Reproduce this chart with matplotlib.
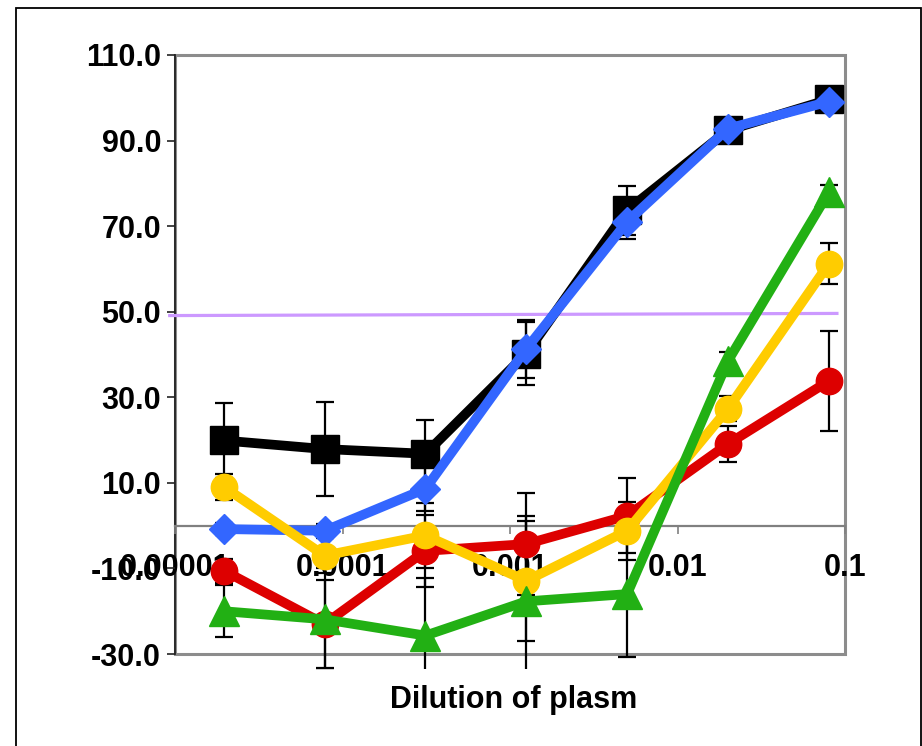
import matplotlib
matplotlib.use('Agg')
import matplotlib.pyplot as plt
from matplotlib.patches import Rectangle
from matplotlib.transforms import Bbox, TransformedBbox
from matplotlib.ticker import NullLocator

plt.rcParams['font.family'] = ['Liberation Sans', 'DejaVu Sans']
plt.rcParams['font.weight'] = 'bold'

# ---------- DATA ----------
dilution = [1 / 51200, 1 / 12800, 1 / 3200, 1 / 800, 1 / 200, 1 / 50, 1 / 12.5]

black_y = [19.9, 17.9, 16.8, 40.2, 73.7, 92.4, 99.6]
black_err = [8.8, 10.9, 8.0, 7.3, 5.7, 1.0, 1.0]

blue_y = [-0.8, -1.2, 8.6, 41.3, 71.0, 92.8, 99.1]
blue_err = [1.5, 1.5, 5.1, 6.8, 4.0, 1.0, 1.0]

red_y = [-10.5, -23.0, -5.9, -4.3, 2.3, 19.1, 33.8]
red_err = [2.8, 10.2, 8.5, 12.0, 8.8, 4.2, 11.6]

yellow_y = [9.1, -7.0, -2.3, -12.9, -1.2, 27.3, 61.2]
yellow_err = [3.0, 4.0, 7.5, 14.0, 6.8, 2.9, 4.8]

green_y = [-20.0, -21.9, -25.7, -17.7, -16.0, 38.5, 77.9]
green_err = [6.1, 12.0, 13.5, 20.0, 14.7, 2.1, 1.7]

cutoff_x = [9.3e-6, 0.0895]
cutoff_y = [49.1, 49.6]

yticks = [-30, -10, 10, 30, 50, 70, 90, 110]
xticks = [1e-5, 1e-4, 1e-3, 1e-2, 1e-1]
xtick_labels = ['0.00001', '0.0001', '0.001', '0.01', '0.1']

# ---------- FIGURE ----------
fig = plt.figure(figsize=(9.22, 7.46), dpi=100)
ax = fig.add_axes([175 / 922, 1 - 654 / 746, 670 / 922, 599 / 746])
ax.set_xscale('log')
ax.set_xlim(1e-5, 0.1)
ax.set_ylim(-30, 110)

# 50% line
ax.plot(cutoff_x, cutoff_y, color='#CC99FF', lw=2.3, zorder=1.8, clip_on=False)

# error bars, allowed to run a little below the plot area like in the original
err_clip = TransformedBbox(Bbox([[1e-6, -33.5], [1.0, 200]]), ax.transData)
for ys, errs in [(black_y, black_err), (blue_y, blue_err), (red_y, red_err),
                 (yellow_y, yellow_err), (green_y, green_err)]:
    eb = ax.errorbar(dilution, ys, yerr=errs, fmt='none', ecolor='black',
                     elinewidth=1.6, capsize=6.5, capthick=1.6, zorder=1.9)
    for art in list(eb[1]) + list(eb[2]):
        art.set_clip_box(err_clip)

series = [
    (black_y, 'black', 's', 20, 2.0),
    (blue_y, '#3366FF', 'D', 15, 3.0),
    (red_y, '#DD0000', 'o', 19, 4.0),
    (yellow_y, '#FFCC00', 'o', 19, 5.0),
    (green_y, '#22B014', '^', 21, 6.0),
]
for ys, col, mk, ms, z in series:
    ax.plot(dilution, ys, color=col, lw=7, marker=mk, ms=ms, mec=col, mfc=col,
            zorder=z, solid_joinstyle='round')

# ---------- AXES STYLE ----------
for s in ['top', 'right']:
    ax.spines[s].set_visible(False)
ax.add_patch(Rectangle((0, 0), 1, 1, transform=ax.transAxes, fill=False,
                       ec='#8c8c8c', lw=2.2, clip_on=False, zorder=0.5))
ax.spines['left'].set_color('#222222')
ax.spines['left'].set_linewidth(1.3)
ax.spines['left'].set_zorder(0.6)
ax.spines['bottom'].set_position(('data', 0))
ax.spines['bottom'].set_color('#808080')
ax.spines['bottom'].set_linewidth(1.6)
ax.spines['bottom'].set_zorder(0.6)

ax.set_yticks(yticks)
ax.set_yticklabels([f'{v:.1f}' for v in yticks])
ax.set_xticks(xticks)
ax.set_xticklabels(xtick_labels)
ax.xaxis.set_minor_locator(NullLocator())
ax.tick_params(axis='y', direction='out', length=6, width=1.2, color='#222222',
               pad=4, labelsize=22)
ax.tick_params(axis='x', direction='out', length=5.5, width=1.2, color='#808080',
               pad=14, labelsize=22)

t = fig.text(390 / 922, 1 - 700 / 746, 'Dilution of plasma', ha='left', va='center',
             fontsize=22, fontweight='bold', clip_on=True)
t.set_clip_box(TransformedBbox(Bbox([[0, 0], [636 / 922, 1]]), fig.transFigure))

# outer chart border
fig.add_artist(Rectangle((16 / 922, -0.05), 905 / 922, 1.05 - 8 / 746,
                         transform=fig.transFigure, fill=False, ec='black', lw=1.3))

plt.savefig('out.png', dpi=100)
